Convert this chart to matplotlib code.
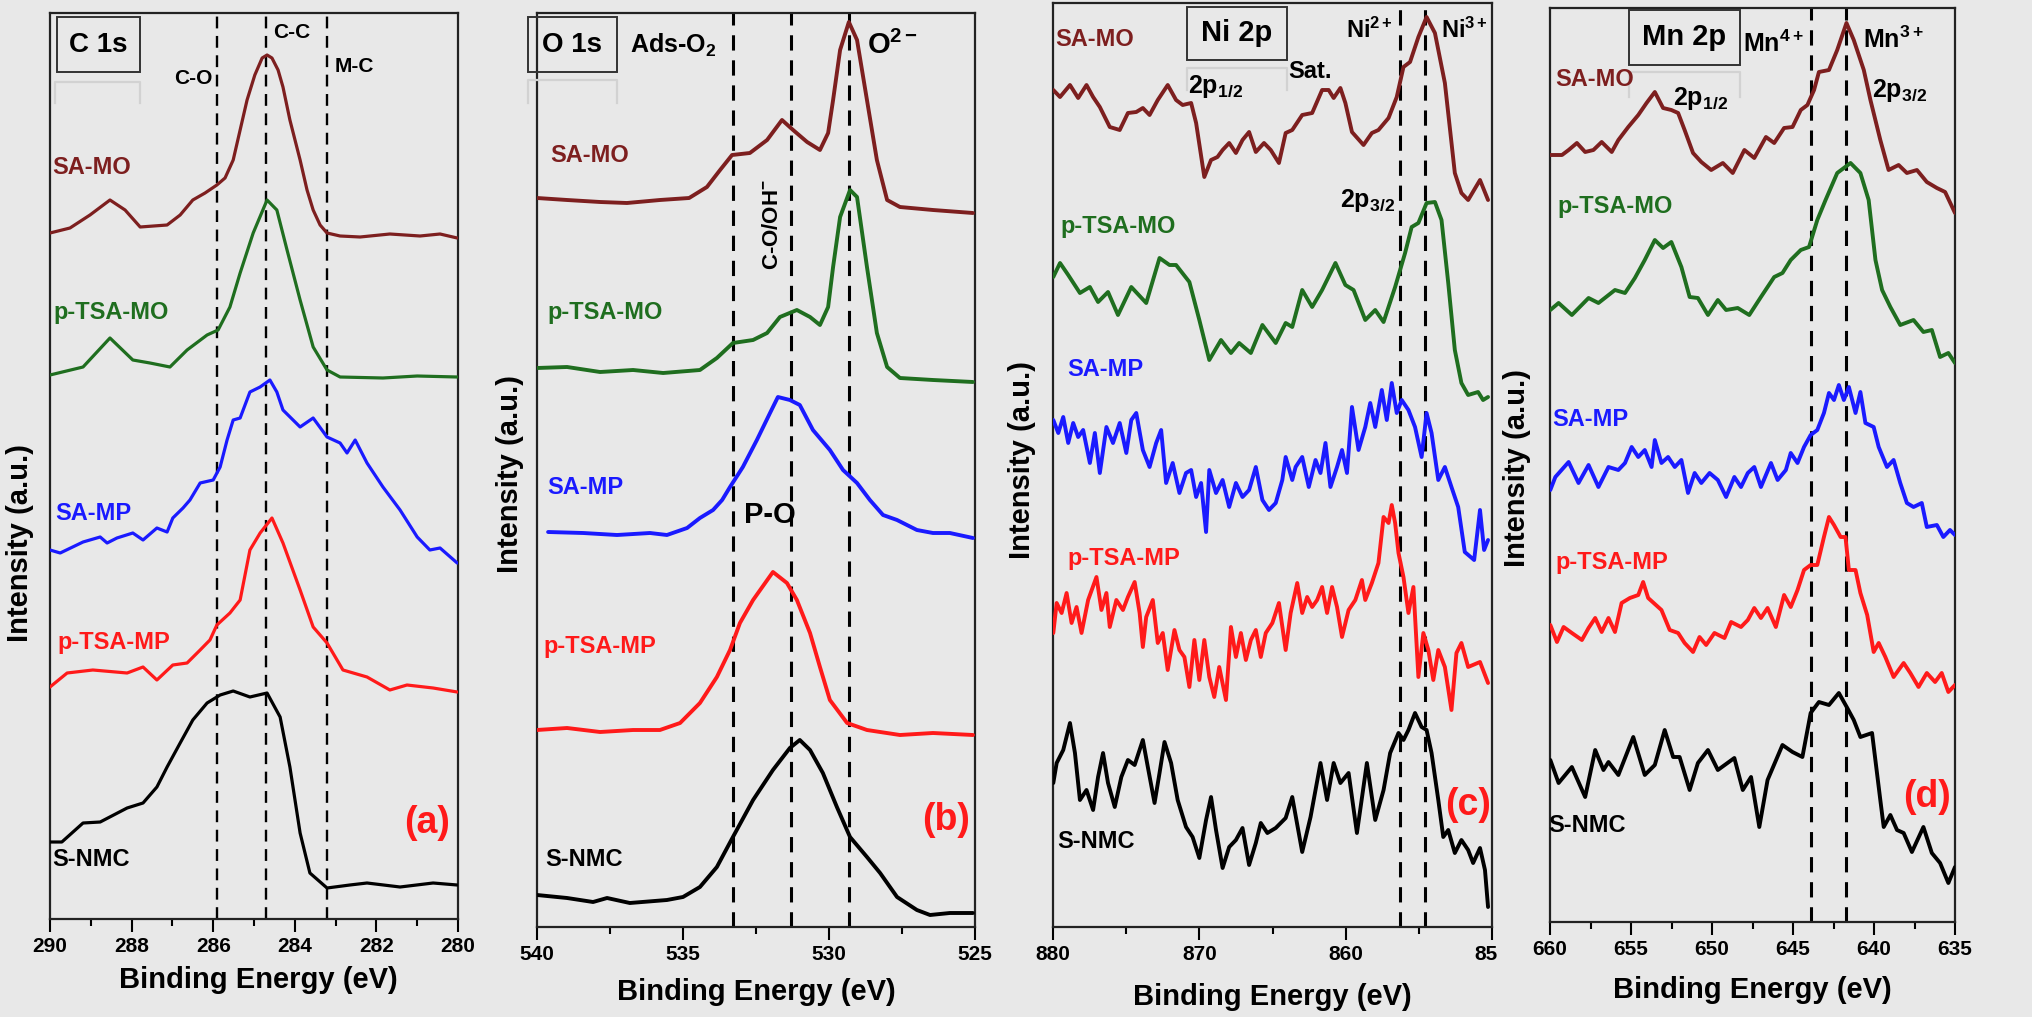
import matplotlib
matplotlib.use("Agg")
import matplotlib.pyplot as plt
from matplotlib.ticker import MultipleLocator
from matplotlib.lines import Line2D
from matplotlib.patches import Rectangle

# ---------------- C 1s ----------------
c1s_e_samo = [290.0, 289.51, 289.02, 288.53, 288.16, 287.79, 287.13, 286.81, 286.50, 286.20, 285.91, 285.71, 285.51,
              285.34, 285.17, 284.98, 284.80, 284.68, 284.56, 284.41, 284.29, 284.12, 283.87, 283.70, 283.55, 283.38,
              283.21, 282.89, 282.40, 281.67, 280.93, 280.44, 280.02]
c1s_i_samo = [686, 691, 704, 719, 709, 692, 694, 704, 719, 726, 734, 741, 759, 789, 819, 844, 861, 864, 861, 849, 832,
              799, 759, 729, 709, 694, 686, 683, 682, 685, 683, 685, 681]
c1s_e_ptmo = [290.0, 289.19, 288.53, 287.97, 287.55, 287.06, 286.64, 286.15, 285.88, 285.59, 285.34, 285.02, 284.68,
              284.44, 284.19, 283.87, 283.55, 283.21, 282.89, 281.84, 281.00, 280.02]
c1s_i_ptmo = [544, 552, 581, 559, 556, 552, 569, 584, 589, 612, 646, 686, 719, 709, 669, 619, 572, 549, 542, 541, 543, 542]
c1s_e_samp = [290.0, 289.75, 289.19, 288.77, 288.60, 288.36, 287.97, 287.72, 287.38, 287.13, 286.99, 286.74, 286.57,
              286.32, 286.00, 285.83, 285.66, 285.51, 285.34, 285.10, 284.85, 284.61, 284.44, 284.29, 283.87, 283.55,
              283.21, 282.89, 282.72, 282.52, 282.23, 281.84, 281.42, 281.00, 280.69, 280.44, 280.02]
c1s_i_samp = [369, 366, 377, 382, 376, 381, 386, 379, 391, 387, 401, 411, 419, 436, 439, 452, 479, 499, 501, 527, 532,
              539, 527, 509, 492, 501, 482, 476, 466, 479, 456, 432, 409, 382, 369, 371, 356]
c1s_e_ptmp = [290.0, 289.58, 288.95, 288.11, 287.72, 287.38, 286.99, 286.64, 286.32, 286.08, 285.91, 285.59, 285.34,
              285.10, 284.85, 284.56, 284.29, 283.87, 283.55, 283.21, 282.82, 282.23, 281.67, 281.25, 280.61, 280.02]
c1s_i_ptmp = [232, 246, 249, 246, 252, 239, 254, 256, 269, 279, 294, 306, 319, 369, 386, 401, 376, 329, 292, 276, 249,
              242, 229, 234, 231, 227]
c1s_e_snmc = [290.0, 289.71, 289.19, 288.77, 288.11, 287.72, 287.38, 287.13, 286.81, 286.50, 286.15, 285.83, 285.51,
              285.10, 284.68, 284.36, 284.12, 283.87, 283.63, 283.21, 282.65, 282.23, 281.42, 280.61, 280.02]
c1s_i_snmc = [77, 77, 96, 97, 111, 116, 132, 152, 176, 199, 216, 224, 228, 222, 226, 202, 152, 86, 46, 31, 34, 36, 32,
              36, 34]
c1s_lines = [285.9, 284.7, 283.2]

# ---------------- O 1s ----------------
o1s_e_samo = [540.0, 538.97, 537.84, 536.92, 535.79, 534.79, 534.18, 533.73, 533.32, 532.71, 532.12, 531.61, 531.23,
              530.75, 530.31, 530.03, 529.86, 529.62, 529.32, 529.04, 528.70, 528.36, 528.01, 527.57, 526.44, 525.07]
o1s_i_samo = [729, 727, 725, 724, 727, 729, 740, 757, 772, 774, 787, 807, 797, 785, 777, 794, 827, 877, 905, 887, 827,
              767, 727, 720, 717, 714]
o1s_e_ptmo = [540.0, 538.97, 537.84, 536.71, 535.68, 534.42, 533.84, 533.29, 532.60, 532.12, 531.68, 531.10, 530.65,
              530.31, 530.03, 529.86, 529.62, 529.28, 529.04, 528.70, 528.36, 528.01, 527.57, 526.44, 525.07]
o1s_i_ptmo = [559, 560, 555, 557, 554, 557, 569, 584, 587, 594, 610, 617, 610, 602, 620, 660, 710, 737, 730, 660, 594,
              560, 549, 547, 545]
o1s_e_samp = [539.62, 538.42, 537.26, 536.13, 535.55, 534.86, 534.42, 533.97, 533.66, 533.39, 532.95, 532.47, 532.02,
              531.75, 531.34, 531.00, 530.55, 529.97, 529.52, 529.04, 528.60, 528.15, 527.67, 526.99, 526.44, 525.86,
              525.07]
o1s_i_samp = [395, 394, 392, 394, 392, 399, 409, 417, 427, 440, 460, 487, 514, 530, 527, 522, 497, 477, 457, 444, 427,
              412, 407, 397, 394, 394, 389]
o1s_e_ptmp = [540.0, 538.97, 537.84, 536.71, 535.79, 535.10, 534.42, 533.84, 533.39, 533.05, 532.60, 531.92, 531.44,
              531.10, 530.65, 530.31, 529.97, 529.38, 528.70, 527.57, 526.44, 525.07]
o1s_i_ptmp = [197, 199, 195, 197, 197, 204, 224, 250, 277, 304, 327, 355, 344, 327, 294, 260, 227, 204, 197, 192, 194,
              192]
o1s_e_snmc = [540.0, 538.97, 538.08, 537.60, 536.82, 535.55, 535.00, 534.42, 533.84, 533.29, 532.60, 531.92, 531.34,
              531.00, 530.65, 530.21, 529.73, 529.28, 528.70, 528.25, 527.67, 526.99, 526.54, 525.86, 525.07]
o1s_i_snmc = [32, 29, 25, 29, 24, 27, 30, 40, 60, 90, 127, 157, 179, 187, 177, 154, 120, 90, 70, 54, 30, 17, 12, 14, 14]
o1s_lines = [533.3, 531.3, 529.3]

# ---------------- Ni 2p ----------------
ni_e_samo = [879.98, 879.52, 878.84, 878.28, 877.71, 877.26, 876.80, 876.12, 875.44, 874.88, 874.31, 873.86, 873.40,
             872.84, 872.16, 871.59, 871.14, 870.56, 870.22, 869.66, 869.20, 868.76, 868.41, 867.96, 867.50, 867.05,
             866.60, 866.14, 865.58, 865.12, 864.56, 864.10, 863.65, 862.97, 862.29, 861.61, 861.16, 860.82, 860.36,
             860.02, 859.57, 858.78, 858.21, 857.76, 857.07, 856.51, 856.05, 855.60, 855.03, 854.47, 853.90, 853.22,
             852.54, 852.09, 851.63, 850.82, 850.27]
ni_i_samo = [837, 830, 842, 829, 842, 830, 820, 800, 797, 814, 815, 819, 812, 827, 842, 827, 822, 824, 804, 750, 767,
             770, 777, 784, 774, 787, 795, 775, 784, 777, 764, 794, 797, 812, 814, 837, 837, 829, 839, 824, 795, 782,
             794, 797, 809, 830, 860, 865, 890, 910, 894, 844, 754, 734, 727, 747, 727]
ni_e_ptmo = [879.98, 879.52, 878.96, 878.16, 877.48, 876.92, 876.24, 875.56, 874.65, 873.63, 872.72, 872.04, 871.59,
             870.68, 870.00, 869.32, 868.52, 867.84, 867.28, 866.48, 865.69, 864.78, 864.10, 863.65, 862.97, 862.29,
             861.61, 860.70, 860.02, 859.46, 858.66, 857.98, 857.41, 856.62, 855.94, 855.49, 855.03, 854.47, 853.90,
             853.45, 852.99, 852.54, 852.09, 851.63, 850.95, 850.61, 850.27]
ni_i_ptmo = [650, 664, 652, 634, 640, 625, 635, 612, 640, 624, 669, 662, 662, 645, 607, 567, 587, 574, 584, 574, 602,
             584, 604, 600, 637, 620, 637, 664, 642, 637, 607, 617, 605, 640, 674, 700, 704, 724, 725, 707, 644, 577,
             544, 532, 535, 527, 530]
ni_e_samp = [879.98, 879.64, 879.30, 878.96, 878.62, 878.28, 877.94, 877.48, 877.14, 876.80, 876.35, 875.90, 875.44,
             874.99, 874.65, 874.31, 873.86, 873.40, 872.95, 872.61, 872.27, 871.82, 871.36, 870.91, 870.56, 870.22,
             869.88, 869.54, 869.32, 868.86, 868.41, 867.96, 867.50, 867.05, 866.60, 866.14, 865.69, 865.24, 864.78,
             864.33, 864.10, 863.65, 863.42, 862.97, 862.52, 862.06, 861.72, 861.38, 861.04, 860.59, 860.25, 859.91,
             859.57, 859.12, 858.66, 858.32, 857.98, 857.53, 857.19, 856.85, 856.51, 856.17, 855.71, 855.26, 854.81,
             854.47, 854.13, 853.67, 853.22, 852.77, 852.31, 851.86, 851.22, 850.82, 850.54, 850.27]
ni_i_samp = [507, 494, 510, 484, 504, 490, 497, 464, 494, 454, 500, 484, 504, 474, 507, 514, 477, 460, 484, 497, 444,
             464, 434, 454, 457, 430, 444, 395, 457, 434, 447, 420, 444, 430, 437, 460, 427, 417, 424, 447, 470, 447,
             460, 470, 440, 467, 454, 484, 440, 460, 477, 454, 520, 477, 500, 524, 500, 537, 507, 544, 514, 527, 517,
             500, 470, 514, 494, 447, 460, 440, 420, 375, 367, 417, 377, 387]
ni_e_ptmp = [879.98, 879.75, 879.41, 879.07, 878.73, 878.39, 878.05, 877.60, 877.03, 876.69, 876.35, 876.12, 875.67,
             875.22, 874.88, 874.42, 874.08, 873.86, 873.63, 873.18, 872.84, 872.50, 872.16, 871.70, 871.36, 871.02,
             870.68, 870.34, 870.00, 869.66, 869.32, 868.98, 868.64, 868.18, 867.84, 867.50, 867.16, 866.82, 866.48,
             866.14, 865.80, 865.46, 865.01, 864.56, 864.10, 863.76, 863.31, 862.97, 862.63, 862.29, 861.95, 861.61,
             861.27, 860.93, 860.59, 860.25, 859.80, 859.34, 858.89, 858.66, 858.21, 857.76, 857.41, 857.07, 856.85,
             856.62, 856.39, 856.05, 855.71, 855.37, 855.03, 854.69, 854.35, 854.01, 853.67, 853.22, 852.77, 852.43,
             852.09, 851.63, 850.82, 850.27]
ni_i_ptmp = [294, 324, 314, 334, 304, 320, 294, 327, 350, 317, 334, 300, 327, 317, 330, 345, 314, 280, 310, 327, 284,
             294, 257, 297, 277, 270, 240, 287, 247, 287, 250, 230, 260, 227, 300, 270, 294, 267, 287, 297, 270, 294,
             304, 324, 277, 314, 344, 314, 330, 320, 327, 340, 314, 340, 320, 290, 317, 327, 347, 327, 344, 364, 410,
             404, 422, 404, 374, 350, 314, 340, 250, 294, 277, 247, 277, 260, 217, 274, 284, 260, 265, 244]
ni_e_snmc = [879.98, 879.75, 879.30, 878.84, 878.50, 878.16, 877.71, 877.26, 876.92, 876.58, 876.24, 875.78, 875.33,
             874.88, 874.42, 873.86, 873.52, 873.06, 872.72, 872.38, 871.93, 871.48, 870.91, 870.46, 870.00, 869.54,
             869.20, 868.86, 868.41, 867.96, 867.50, 867.05, 866.60, 866.14, 865.80, 865.35, 864.78, 864.10, 863.65,
             862.97, 862.40, 861.72, 861.27, 860.82, 860.36, 859.80, 859.23, 858.55, 857.98, 857.41, 856.96, 856.39,
             856.05, 855.71, 855.26, 854.81, 854.47, 854.13, 853.67, 853.33, 852.99, 852.54, 852.09, 851.63, 851.29,
             850.82, 850.48, 850.27]
ni_i_snmc = [144, 164, 177, 204, 174, 127, 137, 117, 150, 174, 144, 120, 150, 167, 162, 187, 160, 124, 154, 185, 164,
             127, 100, 90, 69, 107, 130, 97, 59, 80, 87, 99, 62, 84, 104, 94, 99, 109, 130, 75, 110, 164, 127, 164,
             144, 154, 94, 164, 107, 137, 174, 194, 187, 197, 214, 200, 197, 174, 127, 90, 97, 74, 87, 77, 64, 79, 57,
             20]
ni_lines = [856.3, 854.6]

# ---------------- Mn 2p ----------------
mn_e_samo = [659.98, 659.26, 658.85, 658.34, 657.83, 657.32, 656.81, 656.19, 655.78, 655.17, 654.55, 654.04, 653.53,
             653.02, 652.51, 652.09, 651.69, 651.17, 650.66, 650.05, 649.33, 648.72, 648.00, 647.39, 646.67, 646.16,
             645.55, 645.03, 644.52, 644.11, 643.70, 643.40, 642.78, 642.27, 641.70, 641.25, 640.63, 640.22, 639.61,
             639.10, 638.48, 637.97, 637.35, 636.74, 636.12, 635.61, 635.00]
mn_i_samo = [767, 767, 772, 779, 770, 772, 780, 770, 782, 795, 807, 819, 830, 814, 812, 809, 792, 769, 760, 752, 759,
             749, 772, 764, 785, 779, 794, 795, 812, 817, 832, 850, 852, 872, 899, 882, 852, 822, 782, 752, 757, 749,
             752, 740, 734, 730, 709]
mn_e_ptmo = [659.98, 659.47, 658.65, 657.62, 657.01, 655.99, 655.37, 654.76, 654.15, 653.53, 653.02, 652.51, 651.89,
             651.38, 650.87, 650.25, 649.64, 649.13, 648.41, 647.70, 646.98, 646.16, 645.65, 645.14, 644.52, 644.01,
             643.50, 642.99, 642.27, 641.45, 640.84, 640.33, 639.91, 639.50, 638.99, 638.38, 637.56, 636.95, 636.43,
             635.92, 635.41, 635.00]
mn_i_ptmo = [612, 619, 607, 624, 619, 632, 629, 644, 662, 682, 674, 680, 655, 625, 624, 607, 622, 612, 614, 607, 625,
             645, 649, 662, 672, 675, 702, 722, 749, 759, 749, 722, 662, 632, 615, 597, 602, 590, 592, 565, 569, 559]
mn_e_samp = [659.98, 659.67, 658.85, 658.24, 657.62, 657.01, 656.39, 655.78, 655.37, 654.96, 654.55, 654.15, 653.73,
             653.53, 653.12, 652.71, 652.30, 651.89, 651.48, 651.07, 650.66, 650.15, 649.64, 649.13, 648.62, 648.21,
             647.79, 647.39, 646.98, 646.36, 645.95, 645.44, 645.14, 644.72, 644.32, 643.91, 643.50, 643.09, 642.78,
             642.47, 642.17, 641.86, 641.55, 641.14, 640.84, 640.53, 640.02, 639.71, 639.20, 638.79, 638.38, 637.97,
             637.56, 637.05, 636.74, 636.12, 635.72, 635.31, 635.00]
mn_i_samp = [432, 445, 460, 439, 457, 435, 455, 452, 459, 475, 465, 472, 455, 482, 459, 465, 455, 462, 429, 449, 439,
             449, 442, 425, 445, 435, 449, 455, 435, 459, 442, 452, 469, 459, 475, 487, 492, 509, 529, 522, 537, 522,
             535, 509, 530, 499, 495, 475, 455, 462, 439, 419, 415, 419, 395, 397, 385, 392, 387]
mn_e_ptmp = [659.98, 659.57, 659.16, 658.65, 658.03, 657.62, 657.21, 656.81, 656.39, 655.99, 655.58, 655.07, 654.55,
             654.25, 653.94, 653.12, 652.61, 652.09, 651.69, 651.17, 650.77, 650.36, 649.85, 649.23, 648.82, 648.21,
             647.79, 647.39, 646.98, 646.57, 646.06, 645.55, 645.14, 644.72, 644.32, 643.91, 643.50, 643.09, 642.78,
             642.47, 642.06, 641.76, 641.55, 641.14, 640.84, 640.42, 640.02, 639.71, 639.30, 638.79, 638.17, 637.76,
             637.25, 636.74, 636.23, 635.82, 635.41, 635.00]
mn_i_ptmp = [297, 280, 295, 289, 282, 294, 304, 290, 304, 290, 319, 324, 327, 340, 324, 312, 292, 289, 279, 270, 285,
             277, 289, 284, 300, 295, 302, 314, 304, 314, 295, 327, 315, 332, 352, 357, 357, 385, 405, 397, 385, 385,
             352, 352, 329, 307, 270, 279, 265, 245, 259, 249, 235, 249, 240, 249, 230, 237]
mn_e_snmc = [659.98, 659.47, 658.65, 657.83, 657.21, 656.70, 656.39, 655.78, 654.86, 654.15, 653.53, 652.92, 652.40,
             652.00, 651.38, 650.87, 650.25, 649.64, 648.62, 648.10, 647.59, 647.08, 646.57, 645.65, 645.03, 644.42,
             643.91, 643.40, 642.78, 642.17, 641.65, 641.25, 640.84, 640.12, 639.61, 639.40, 638.99, 638.58, 638.17,
             637.66, 636.95, 636.43, 635.92, 635.41, 635.00]
mn_i_snmc = [162, 139, 155, 125, 172, 152, 160, 147, 185, 147, 157, 192, 165, 165, 132, 159, 172, 152, 164, 132, 145,
             95, 142, 177, 170, 165, 209, 220, 217, 229, 214, 202, 185, 189, 122, 95, 107, 92, 89, 70, 95, 69, 59, 39,
             55]
mn_lines = [643.9, 641.7]

samples = ["SA-MO", "p-TSA-MO", "SA-MP", "p-TSA-MP", "S-NMC"]
colors = ["#7d1f1f", "#1f6e1f", "#1a1aff", "#ff1a1a", "#000000"]

plt.rcParams['font.family'] = ['Liberation Sans', 'DejaVu Sans']
plt.rcParams['font.weight'] = 'bold'
plt.rcParams['mathtext.fontset'] = 'custom'
plt.rcParams['mathtext.rm'] = 'Liberation Sans:bold'
plt.rcParams['mathtext.it'] = 'Liberation Sans:bold'
plt.rcParams['mathtext.bf'] = 'Liberation Sans:bold'

W, H = 2032, 1017
BG = '#e8e8e8'
fig = plt.figure(figsize=(W / 100, H / 100), dpi=100, facecolor=BG)


def panel(l, t, r, b):
    ax = fig.add_axes([l / W, 1 - b / H, (r - l) / W, (b - t) / H])
    ax.set_facecolor(BG)
    return ax


def ftext(px, py, s, **kw):
    fig.text(px / W, 1 - py / H, s, **kw)


def box(l, t, r, b, ec='#333333', lw=1.4):
    fig.add_artist(Rectangle((l / W, 1 - b / H), (r - l) / W, (b - t) / H, transform=fig.transFigure,
                             fill=False, ec=ec, lw=lw, zorder=5))


def ghost(l, t, r, b):
    fig.add_artist(Line2D([l / W, l / W, r / W, r / W], [1 - b / H, 1 - t / H, 1 - t / H, 1 - b / H],
                          transform=fig.transFigure, color='#d2d2d2', lw=1.6))


def style(ax, xlim, ymax, major, minor, lx, ly, ylx, yly):
    ax.set_xlim(*xlim)
    ax.set_ylim(0, ymax)
    ax.set_xticks(major)
    ax.xaxis.set_minor_locator(MultipleLocator(minor))
    ax.set_yticks([])
    ax.tick_params(axis='x', which='major', direction='out', length=9, width=1.5, labelsize=15, pad=4)
    ax.tick_params(axis='x', which='minor', direction='out', length=5, width=1.5)
    for s in ax.spines.values():
        s.set_linewidth(1.6)
        s.set_color('#222222')
    ax.set_xlabel('Binding Energy (eV)', fontsize=21, fontweight='bold', va='center')
    ax.xaxis.set_label_coords(lx, ly)
    ax.set_ylabel('Intensity (a.u.)', fontsize=21, fontweight='bold', va='center')
    ax.yaxis.set_label_coords(ylx, yly)


def draw(ax, series, lines, lw, dash_lw):
    for (e, i), c in zip(series, colors):
        ax.plot(e, i, color=c, lw=lw, solid_joinstyle='round', solid_capstyle='round', zorder=3)
    for v in lines:
        ax.axvline(v, color='k', lw=dash_lw, ls=(0, (5, 3.2)), zorder=2)


# (a) C 1s
ax1 = panel(50, 13, 458, 919)
draw(ax1, [(c1s_e_samo, c1s_i_samo), (c1s_e_ptmo, c1s_i_ptmo), (c1s_e_samp, c1s_i_samp),
           (c1s_e_ptmp, c1s_i_ptmp), (c1s_e_snmc, c1s_i_snmc)], c1s_lines, 2.3, 1.7)
style(ax1, (290, 280), 906, [290, 288, 286, 284, 282, 280], 1, 0.51, -0.067, -0.074, 0.415)

# (b) O 1s
ax2 = panel(537, 13, 975, 927)
draw(ax2, [(o1s_e_samo, o1s_i_samo), (o1s_e_ptmo, o1s_i_ptmo), (o1s_e_samp, o1s_i_samp),
           (o1s_e_ptmp, o1s_i_ptmp), (o1s_e_snmc, o1s_i_snmc)], o1s_lines, 2.8, 2.2)
style(ax2, (540, 525), 914, [540, 535, 530, 525], 2.5, 0.5, -0.071, -0.062, 0.496)

# (c) Ni 2p
ax3 = panel(1053, 3, 1492, 927)
draw(ax3, [(ni_e_samo, ni_i_samo), (ni_e_ptmo, ni_i_ptmo), (ni_e_samp, ni_i_samp),
           (ni_e_ptmp, ni_i_ptmp), (ni_e_snmc, ni_i_snmc)], ni_lines, 2.8, 2.2)
style(ax3, (880, 850), 924, [880, 870, 860, 850], 5, 0.5, -0.076, -0.071, 0.505)

# (d) Mn 2p
ax4 = panel(1550, 8, 1955, 922)
draw(ax4, [(mn_e_samo, mn_i_samo), (mn_e_ptmo, mn_i_ptmo), (mn_e_samp, mn_i_samp),
           (mn_e_ptmp, mn_i_ptmp), (mn_e_snmc, mn_i_snmc)], mn_lines, 2.8, 2.2)
style(ax4, (660, 635), 914, [660, 655, 650, 645, 640, 635], 2.5, 0.5, -0.074, -0.081, 0.497)

# cropped "850" label of panel (c), as in the reference
fig.add_artist(Rectangle((1497 / W, 1 - 975 / H), 23 / W, 40 / H, transform=fig.transFigure,
                         fc=BG, ec='none', zorder=10))

# sample labels
lab_pos = {
    'a': [(52, 168), (53, 313), (55, 513), (57, 643), (52, 860)],
    'b': [(550, 155), (547, 312), (547, 487), (543, 647), (545, 860)],
    'c': [(1055, 40), (1060, 227), (1067, 370), (1067, 558), (1057, 842)],
    'd': [(1555, 80), (1557, 207), (1552, 420), (1555, 562), (1548, 825)],
}
for key in lab_pos:
    for (px, py), name, c in zip(lab_pos[key], samples, colors):
        ftext(px, py, name, color=c, fontsize=17, ha='left', va='center')

# panel boxes
box(57, 17, 140, 72)
ftext(98, 45, 'C 1s', fontsize=20, ha='center', va='center')
ghost(55, 82, 140, 103)
box(528, 17, 617, 72)
ftext(572, 45, 'O 1s', fontsize=20, ha='center', va='center')
ghost(528, 80, 617, 103)
box(1187, 7, 1287, 60)
ftext(1237, 33, 'Ni 2p', fontsize=21, ha='center', va='center')
ghost(1187, 68, 1287, 90)
box(1629, 10, 1740, 65)
ftext(1684, 37, 'Mn 2p', fontsize=21, ha='center', va='center')
ghost(1629, 72, 1740, 97)

# peak annotations
ftext(193, 78, 'C-O', fontsize=15, ha='center', va='center')
ftext(292, 33, 'C-C', fontsize=15, ha='center', va='center')
ftext(354, 66, 'M-C', fontsize=15, ha='center', va='center')

ftext(630, 45, 'Ads-O$_2$', fontsize=18, ha='left', va='center')
ftext(867, 45, 'O$^{2-}$', fontsize=21, ha='left', va='center')
ftext(772, 225, 'C-O/OH$^{-}$', fontsize=16, ha='center', va='center', rotation=90)
ftext(770, 515, 'P-O', fontsize=21, ha='center', va='center')

ftext(1188, 87, '2p$_{1/2}$', fontsize=18, ha='left', va='center')
ftext(1288, 72, 'Sat.', fontsize=17, ha='left', va='center')
ftext(1346, 30, 'Ni$^{2+}$', fontsize=17, ha='left', va='center')
ftext(1441, 30, 'Ni$^{3+}$', fontsize=17, ha='left', va='center')
ftext(1340, 200, '2p$_{3/2}$', fontsize=18, ha='left', va='center')

ftext(1743, 44, 'Mn$^{4+}$', fontsize=18, ha='left', va='center')
ftext(1863, 40, 'Mn$^{3+}$', fontsize=18, ha='left', va='center')
ftext(1673, 99, '2p$_{1/2}$', fontsize=18, ha='left', va='center')
ftext(1872, 90, '2p$_{3/2}$', fontsize=18, ha='left', va='center')

# panel letters
for px, py, s in [(427, 823, '(a)'), (946, 820, '(b)'), (1468, 805, '(c)'), (1927, 797, '(d)')]:
    ftext(px, py, s, color='#ff1a1a', fontsize=27, ha='center', va='center')

fig.savefig('out.png', dpi=100, facecolor=BG)
